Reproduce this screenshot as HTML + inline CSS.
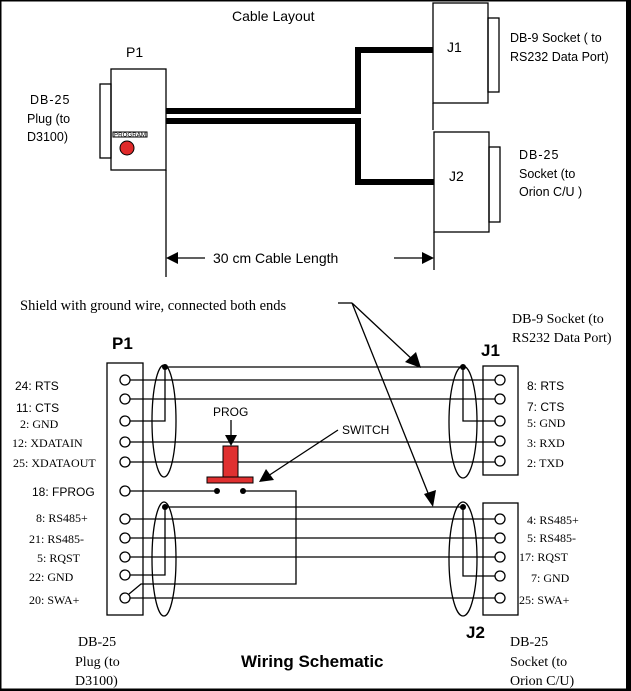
<!DOCTYPE html>
<html><head><meta charset="utf-8"><style>
html,body{margin:0;padding:0;background:#fff;}
svg{display:block;}
.s{font-family:"Liberation Sans",Arial,sans-serif;}
.r{font-family:"Liberation Serif","Times New Roman",serif;}
</style></head><body>
<svg width="631" height="691" viewBox="0 0 631 691" xmlns="http://www.w3.org/2000/svg">
<rect x="0" y="0" width="631" height="691" fill="#fff"/>
<rect x="0.5" y="0.5" width="627" height="689" fill="none" stroke="#000" stroke-width="2"/>
<rect x="626" y="0" width="5" height="691" fill="#000"/>
<rect x="0" y="689" width="631" height="2" fill="#000"/>

<g fill="none" stroke="#000" stroke-width="1.3">
<rect x="100" y="84" width="11" height="74"/>
<rect x="111" y="69" width="55" height="101"/>
<rect x="433" y="3" width="55" height="100"/>
<rect x="488" y="18" width="11" height="74"/>
<rect x="434" y="132" width="55" height="100"/>
<rect x="489" y="147" width="11" height="75"/>
<line x1="433" y1="103" x2="433" y2="130"/>
<line x1="166" y1="170" x2="166" y2="277"/>
<line x1="434" y1="232" x2="434" y2="270"/>
<line x1="177" y1="258" x2="205" y2="258"/>
<line x1="394" y1="258" x2="423" y2="258"/>
</g>
<rect x="113" y="132" width="34" height="5" fill="#fff" stroke="#000" stroke-width="1"/>
<text x="114" y="136.5" class="s" font-size="5" fill="#000" textLength="32" lengthAdjust="spacingAndGlyphs">PROGRAM</text>
<circle cx="127" cy="148" r="7" fill="#e02a2a" stroke="#000" stroke-width="1"/>
<path d="M166,111 H358 V50 H433" fill="none" stroke="#000" stroke-width="6"/>
<path d="M166,121 H358 V182 H434" fill="none" stroke="#000" stroke-width="6"/>
<polygon points="166,258 178,252 178,264" fill="#000"/>
<polygon points="434,258 422,252 422,264" fill="#000"/>

<g class="s" font-size="14" fill="#000">
<text x="232" y="21">Cable Layout</text>
<text x="126" y="57">P1</text>
<text x="447" y="52">J1</text>
<text x="449" y="181">J2</text>
<text x="213" y="263">30 cm Cable Length</text>
</g>
<g class="s" font-size="12.5" fill="#000">
<text x="30" y="104" letter-spacing="1">DB-25</text>
<text x="27" y="123">Plug (to</text>
<text x="27" y="141">D3100)</text>
<text x="510" y="42">DB-9 Socket ( to</text>
<text x="510" y="61">RS232 Data Port)</text>
<text x="519" y="159" letter-spacing="1">DB-25</text>
<text x="519" y="178">Socket  (to</text>
<text x="519" y="196">Orion  C/U )</text>
</g>

<text x="20" y="310" class="r" font-size="14.5" fill="#000">Shield with ground wire, connected both ends</text>
<g fill="none" stroke="#000" stroke-width="1.3">
<line x1="338" y1="303" x2="352" y2="303"/>
<line x1="352" y1="303" x2="414" y2="361"/>
<line x1="352" y1="303" x2="430" y2="498"/>
<rect x="107" y="363" width="36" height="252"/>
<rect x="483" y="366" width="35" height="109"/>
<rect x="483" y="503" width="35" height="112"/>
<ellipse cx="164" cy="421" rx="12" ry="56"/>
<ellipse cx="164" cy="559" rx="12" ry="57"/>
<ellipse cx="463" cy="422" rx="14" ry="56"/>
<ellipse cx="463" cy="559" rx="14" ry="57"/>
<path d="M165,367 H463"/>
<path d="M165,367 V421 H130"/>
<path d="M463,367 V421 H495"/>
<path d="M165,507 H463"/>
<path d="M165,507 V575 H130"/>
<path d="M463,507 V576 H495"/>
<line x1="130" y1="380" x2="495" y2="380"/>
<line x1="130" y1="399" x2="495" y2="399"/>
<line x1="130" y1="442" x2="495" y2="442"/>
<line x1="130" y1="462" x2="495" y2="462"/>
<line x1="130" y1="519" x2="495" y2="519"/>
<line x1="130" y1="538" x2="495" y2="538"/>
<line x1="130" y1="557" x2="495" y2="557"/>
<line x1="130" y1="598" x2="495" y2="598"/>
<line x1="130" y1="491" x2="217" y2="491"/>
<path d="M243,491 H296 V584 H141 L129,594"/>
<line x1="231" y1="420" x2="231" y2="436"/>
<line x1="338" y1="430" x2="268" y2="476"/>
</g>
<polygon points="421,368 405,362 416,352" fill="#000"/>
<polygon points="433,507 424,494 436,490" fill="#000"/>
<polygon points="231,446 225,435 237,435" fill="#000"/>
<polygon points="259,482 266,469 274,480" fill="#000"/>
<rect x="223" y="446" width="15" height="31" fill="#e03030" stroke="#000" stroke-width="1"/>
<rect x="207" y="477" width="46" height="6" fill="#e03030" stroke="#000" stroke-width="1"/>
<g fill="#000">
<circle cx="217" cy="491" r="3"/>
<circle cx="243" cy="491" r="3"/>
<circle cx="165" cy="367" r="3"/>
<circle cx="463" cy="367" r="3"/>
<circle cx="165" cy="507" r="3"/>
<circle cx="463" cy="507" r="3"/>
</g>
<g fill="#fff" stroke="#000" stroke-width="1.3">
<circle cx="125" cy="380" r="5"/>
<circle cx="125" cy="399" r="5"/>
<circle cx="125" cy="421" r="5"/>
<circle cx="125" cy="442" r="5"/>
<circle cx="125" cy="462" r="5"/>
<circle cx="125" cy="491" r="5"/>
<circle cx="125" cy="519" r="5"/>
<circle cx="125" cy="538" r="5"/>
<circle cx="125" cy="557" r="5"/>
<circle cx="125" cy="575" r="5"/>
<circle cx="125" cy="598" r="5"/>
<circle cx="500" cy="380" r="5"/>
<circle cx="500" cy="399" r="5"/>
<circle cx="500" cy="421" r="5"/>
<circle cx="500" cy="441" r="5"/>
<circle cx="500" cy="461" r="5"/>
<circle cx="500" cy="519" r="5"/>
<circle cx="500" cy="538" r="5"/>
<circle cx="500" cy="557" r="5"/>
<circle cx="500" cy="576" r="5"/>
<circle cx="500" cy="598" r="5"/>
</g>
<g class="s" font-weight="bold" font-size="17" fill="#000">
<text x="112" y="349">P1</text>
<text x="481" y="356">J1</text>
<text x="466" y="638">J2</text>
<text x="241" y="667">Wiring Schematic</text>
</g>
<g class="s" font-size="12" fill="#000">
<text x="213" y="416">PROG</text>
<text x="342" y="434">SWITCH</text>
<text x="15" y="390">24: RTS</text>
<text x="16" y="412">11: CTS</text>
<text x="32" y="496">18: FPROG</text>
<text x="527" y="390">8: RTS</text>
<text x="527" y="411">7: CTS</text>
</g>
<g class="r" font-size="12" fill="#000">
<text x="20" y="428">2: GND</text>
<text x="12" y="447">12: XDATAIN</text>
<text x="13" y="467">25: XDATAOUT</text>
<text x="36" y="522">8: RS485+</text>
<text x="29" y="543">21: RS485-</text>
<text x="37" y="562">5: RQST</text>
<text x="29" y="581">22: GND</text>
<text x="29" y="604">20: SWA+</text>
<text x="527" y="427">5: GND</text>
<text x="527" y="447">3: RXD</text>
<text x="527" y="467">2: TXD</text>
<text x="527" y="524">4: RS485+</text>
<text x="527" y="542">5: RS485-</text>
<text x="519" y="561">17: RQST</text>
<text x="531" y="582">7: GND</text>
<text x="519" y="604">25: SWA+</text>
</g>
<g class="r" font-size="14" fill="#000">
<text x="512" y="323">DB-9 Socket (to</text>
<text x="512" y="342">RS232 Data Port)</text>
<text x="78" y="646">DB-25</text>
<text x="75" y="666">Plug (to</text>
<text x="75" y="685">D3100)</text>
<text x="510" y="646">DB-25</text>
<text x="510" y="666">Socket (to</text>
<text x="510" y="685">Orion C/U)</text>
</g>
</svg>
</body></html>
